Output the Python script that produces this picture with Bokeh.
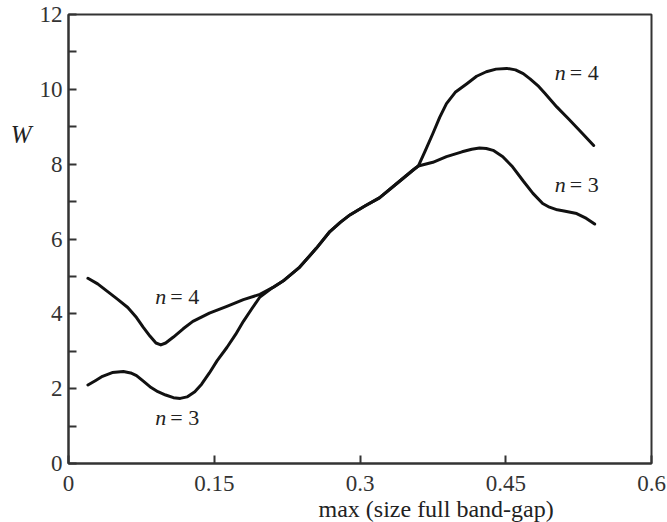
from bokeh.plotting import figure
from bokeh.models import FixedTicker, Label, Range1d, Title, LinearAxis
from bokeh.embed import file_html
from bokeh.resources import INLINE

# ---- data ----
n4_x = [0.02, 0.03, 0.04, 0.05, 0.061, 0.07, 0.077, 0.084, 0.09, 0.095, 0.1, 0.108, 0.118, 0.128,
        0.145, 0.163, 0.18, 0.197,
        0.21, 0.222, 0.238, 0.255, 0.269, 0.28, 0.29, 0.305, 0.32, 0.341, 0.355, 0.36,
        0.367, 0.375, 0.382, 0.389, 0.398, 0.41, 0.42, 0.43, 0.44, 0.451, 0.46, 0.468, 0.475,
        0.483, 0.49, 0.5025, 0.515, 0.526, 0.5405]
n4_y = [4.95, 4.8, 4.6, 4.4, 4.17, 3.9, 3.64, 3.4, 3.22, 3.17, 3.22, 3.38, 3.6, 3.8,
        4.02, 4.2, 4.38, 4.52,
        4.7, 4.9, 5.25, 5.75, 6.2, 6.45, 6.65, 6.88, 7.1, 7.55, 7.85, 7.95,
        8.35, 8.82, 9.25, 9.62, 9.92, 10.15, 10.35, 10.47, 10.54, 10.56, 10.52, 10.42, 10.28,
        10.1, 9.9, 9.53, 9.2, 8.9, 8.5]

n3_x = [0.02, 0.028, 0.035, 0.045, 0.0565, 0.064, 0.07, 0.077, 0.085, 0.092, 0.1, 0.108, 0.115,
        0.122, 0.13, 0.137, 0.145, 0.153, 0.163, 0.172, 0.18, 0.189, 0.197,
        0.21, 0.222, 0.238, 0.255, 0.269, 0.28, 0.29, 0.305, 0.32, 0.341, 0.355, 0.36,
        0.375, 0.389, 0.405, 0.415, 0.423, 0.43, 0.437, 0.447, 0.457, 0.468, 0.478, 0.488, 0.495,
        0.503, 0.51, 0.523, 0.533, 0.5415]
n3_y = [2.1, 2.22, 2.33, 2.43, 2.46, 2.42, 2.35, 2.2, 2.03, 1.92, 1.83, 1.76, 1.74,
        1.78, 1.92, 2.12, 2.42, 2.75, 3.1, 3.45, 3.8, 4.15, 4.45,
        4.7, 4.9, 5.25, 5.75, 6.2, 6.45, 6.65, 6.88, 7.1, 7.55, 7.85, 7.95,
        8.05, 8.2, 8.33, 8.4, 8.43, 8.42, 8.37, 8.2, 7.93, 7.55, 7.22, 6.95, 6.85,
        6.78, 6.75, 6.68, 6.55, 6.4]

x_ticks = [0, 0.15, 0.3, 0.45, 0.6]
x_tick_labels = ["0", "0.15", "0.3", "0.45", "0.6"]
y_major = [0, 2, 4, 6, 8, 10, 12]
y_minor = [1, 3, 5, 7, 9, 11]
y_title = "W"
y_title_pos = 8.8
x_title = "max (size full band-gap)"

FONT = "Liberation Serif"
AX = "#333333"

p = figure(width=667, height=522, output_backend="svg", toolbar_location=None,
           x_range=Range1d(0, 0.6), y_range=Range1d(0, 12),
           min_border_left=68, min_border_right=16, min_border_top=14, min_border_bottom=59)
p.outline_line_color = AX
p.outline_line_width = 2
p.grid.visible = False
p.background_fill_color = "white"
p.border_fill_color = "white"

p.xaxis.ticker = FixedTicker(ticks=x_ticks, minor_ticks=[])
p.xaxis.major_label_overrides = {t: l for t, l in zip(x_ticks, x_tick_labels)}
p.yaxis.ticker = FixedTicker(ticks=y_major, minor_ticks=y_minor)

for ax in (p.xaxis, p.yaxis):
    ax.axis_line_color = AX
    ax.axis_line_width = 2
    ax.major_tick_line_color = AX
    ax.major_tick_line_width = 2
    ax.major_tick_in = 8
    ax.major_tick_out = 0
    ax.minor_tick_line_color = AX
    ax.minor_tick_line_width = 2
    ax.minor_tick_in = 8
    ax.minor_tick_out = 0
    ax.major_label_text_font = FONT
    ax.major_label_text_font_size = "23px"
    ax.major_label_text_color = AX
p.xaxis.major_label_standoff = 12
p.yaxis.major_label_standoff = 6

# y title "W" placed high on the left, as a label-only axis
w_axis = LinearAxis(ticker=FixedTicker(ticks=[y_title_pos], minor_ticks=[]),
                    major_label_overrides={y_title_pos: y_title},
                    axis_line_color=None, major_tick_line_color=None,
                    minor_tick_line_color=None, major_tick_in=0, major_tick_out=0,
                    major_label_standoff=5, major_label_text_font=FONT,
                    major_label_text_font_size="25px", major_label_text_font_style="italic",
                    major_label_text_color="#222222")
p.add_layout(w_axis, "left")

p.add_layout(Title(text=x_title, text_font=FONT, text_font_size="24px",
                   text_font_style="normal", text_color="#222222", align="left",
                   offset=250, standoff=0), "below")

p.line(n4_x, n4_y, line_color="#111111", line_width=3, line_join="round", line_cap="round")
p.line(n3_x, n3_y, line_color="#111111", line_width=3, line_join="round", line_cap="round")

def lab(x, y, t, size="22px", style="normal", align="left", xoff=0):
    p.add_layout(Label(x=x, y=y, text=t, text_font=FONT, text_font_size=size,
                       text_font_style=style, text_align=align, text_baseline="middle",
                       x_offset=xoff, text_color="#222222", level="overlay"))

for (lx, ly, t) in [(0.0894, 4.45, "= 4"), (0.0894, 1.23, "= 3"),
                    (0.5005, 10.45, "= 4"), (0.5005, 7.45, "= 3")]:
    lab(lx, ly, "n", style="italic")
    lab(lx, ly, t, xoff=15)

open("out.html", "w").write(file_html(p, INLINE))
